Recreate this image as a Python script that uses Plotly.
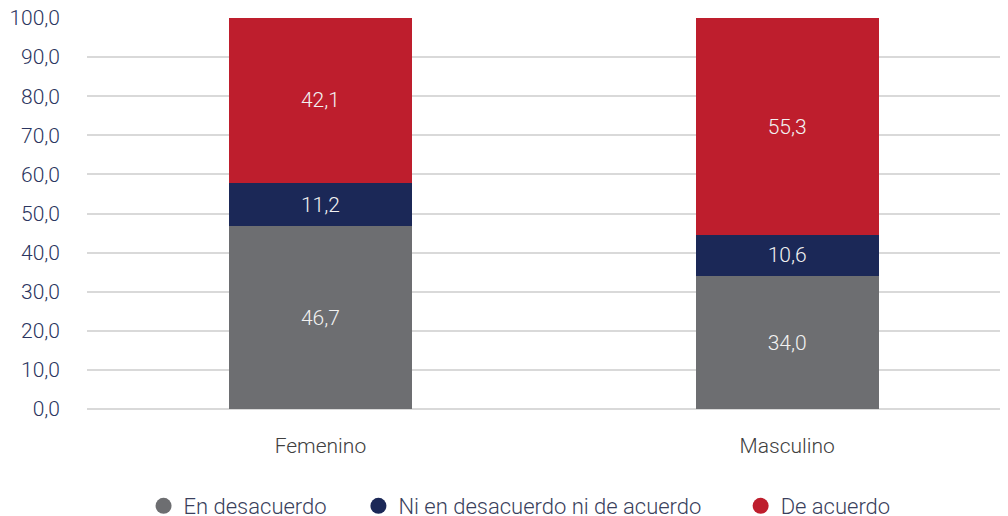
import plotly.graph_objects as go

categories = ["Femenino", "Masculino"]
series_names = ["En desacuerdo", "Ni en desacuerdo ni de acuerdo", "De acuerdo"]
en_desacuerdo = [46.7, 34.0]
ni_ni = [11.2, 10.6]
de_acuerdo = [42.1, 55.3]
tick_vals = [0, 10, 20, 30, 40, 50, 60, 70, 80, 90, 100]

colors = ["#6d6e71", "#1b2857", "#be1e2d"]
values = [en_desacuerdo, ni_ni, de_acuerdo]
FONT = "Roboto"

fig = go.Figure()
for name, vals, col in zip(series_names, values, colors):
    fig.add_trace(go.Bar(
        x=categories, y=vals, name=name, marker_color=col, width=0.392,
        marker_line_width=0,
        texttemplate="%{y:.1f}", textposition="inside", insidetextanchor="middle",
        textfont=dict(color="#f2f2f2", size=21, family=FONT, weight=300),
        showlegend=False, hoverinfo="skip",
    ))

legend_ids = ["legend", "legend2", "legend3"]
legend_x = [0.0614, 0.2947, 0.7097]
for name, col, lid in zip(series_names, colors, legend_ids):
    fig.add_trace(go.Scatter(
        x=[None], y=[None], mode="markers", name=name,
        marker=dict(color=col, size=18, symbol="circle"),
        legend=lid, showlegend=True,
    ))

leg_common = dict(orientation="h", yanchor="middle", y=0.0197, yref="container",
                  xanchor="left", xref="paper",
                  font=dict(size=22, family=FONT, color="#3a3f5c", weight=300),
                  bgcolor="rgba(0,0,0,0)", itemsizing="trace")

fig.update_layout(
    width=1000, height=508,
    margin=dict(l=79, r=0, t=10, b=107),
    paper_bgcolor="white", plot_bgcolor="white",
    barmode="stack", separators=",.",
    font=dict(family=FONT, color="#2b3560"),
    xaxis=dict(range=[-0.5, 1.473], showgrid=False, showline=False, ticks="",
               tickfont=dict(size=21, color="#404040", weight=300), fixedrange=True,
               ticklabelstandoff=22, automargin=False),
    yaxis=dict(range=[0, 100], tickvals=tick_vals, tickformat=".1f",
               showgrid=True, gridcolor="#d9d9d9", gridwidth=1.5,
               zeroline=True, zerolinecolor="#d9d9d9", zerolinewidth=1.5,
               tickfont=dict(size=21, color="#2b3560", weight=300), ticklabelstandoff=26,
               ticklabeloverflow="allow",
               showline=False, automargin=False),
    legend=dict(x=legend_x[0], **leg_common),
    legend2=dict(x=legend_x[1], **leg_common),
    legend3=dict(x=legend_x[2], **leg_common),
)

fig.write_html("out.html")
